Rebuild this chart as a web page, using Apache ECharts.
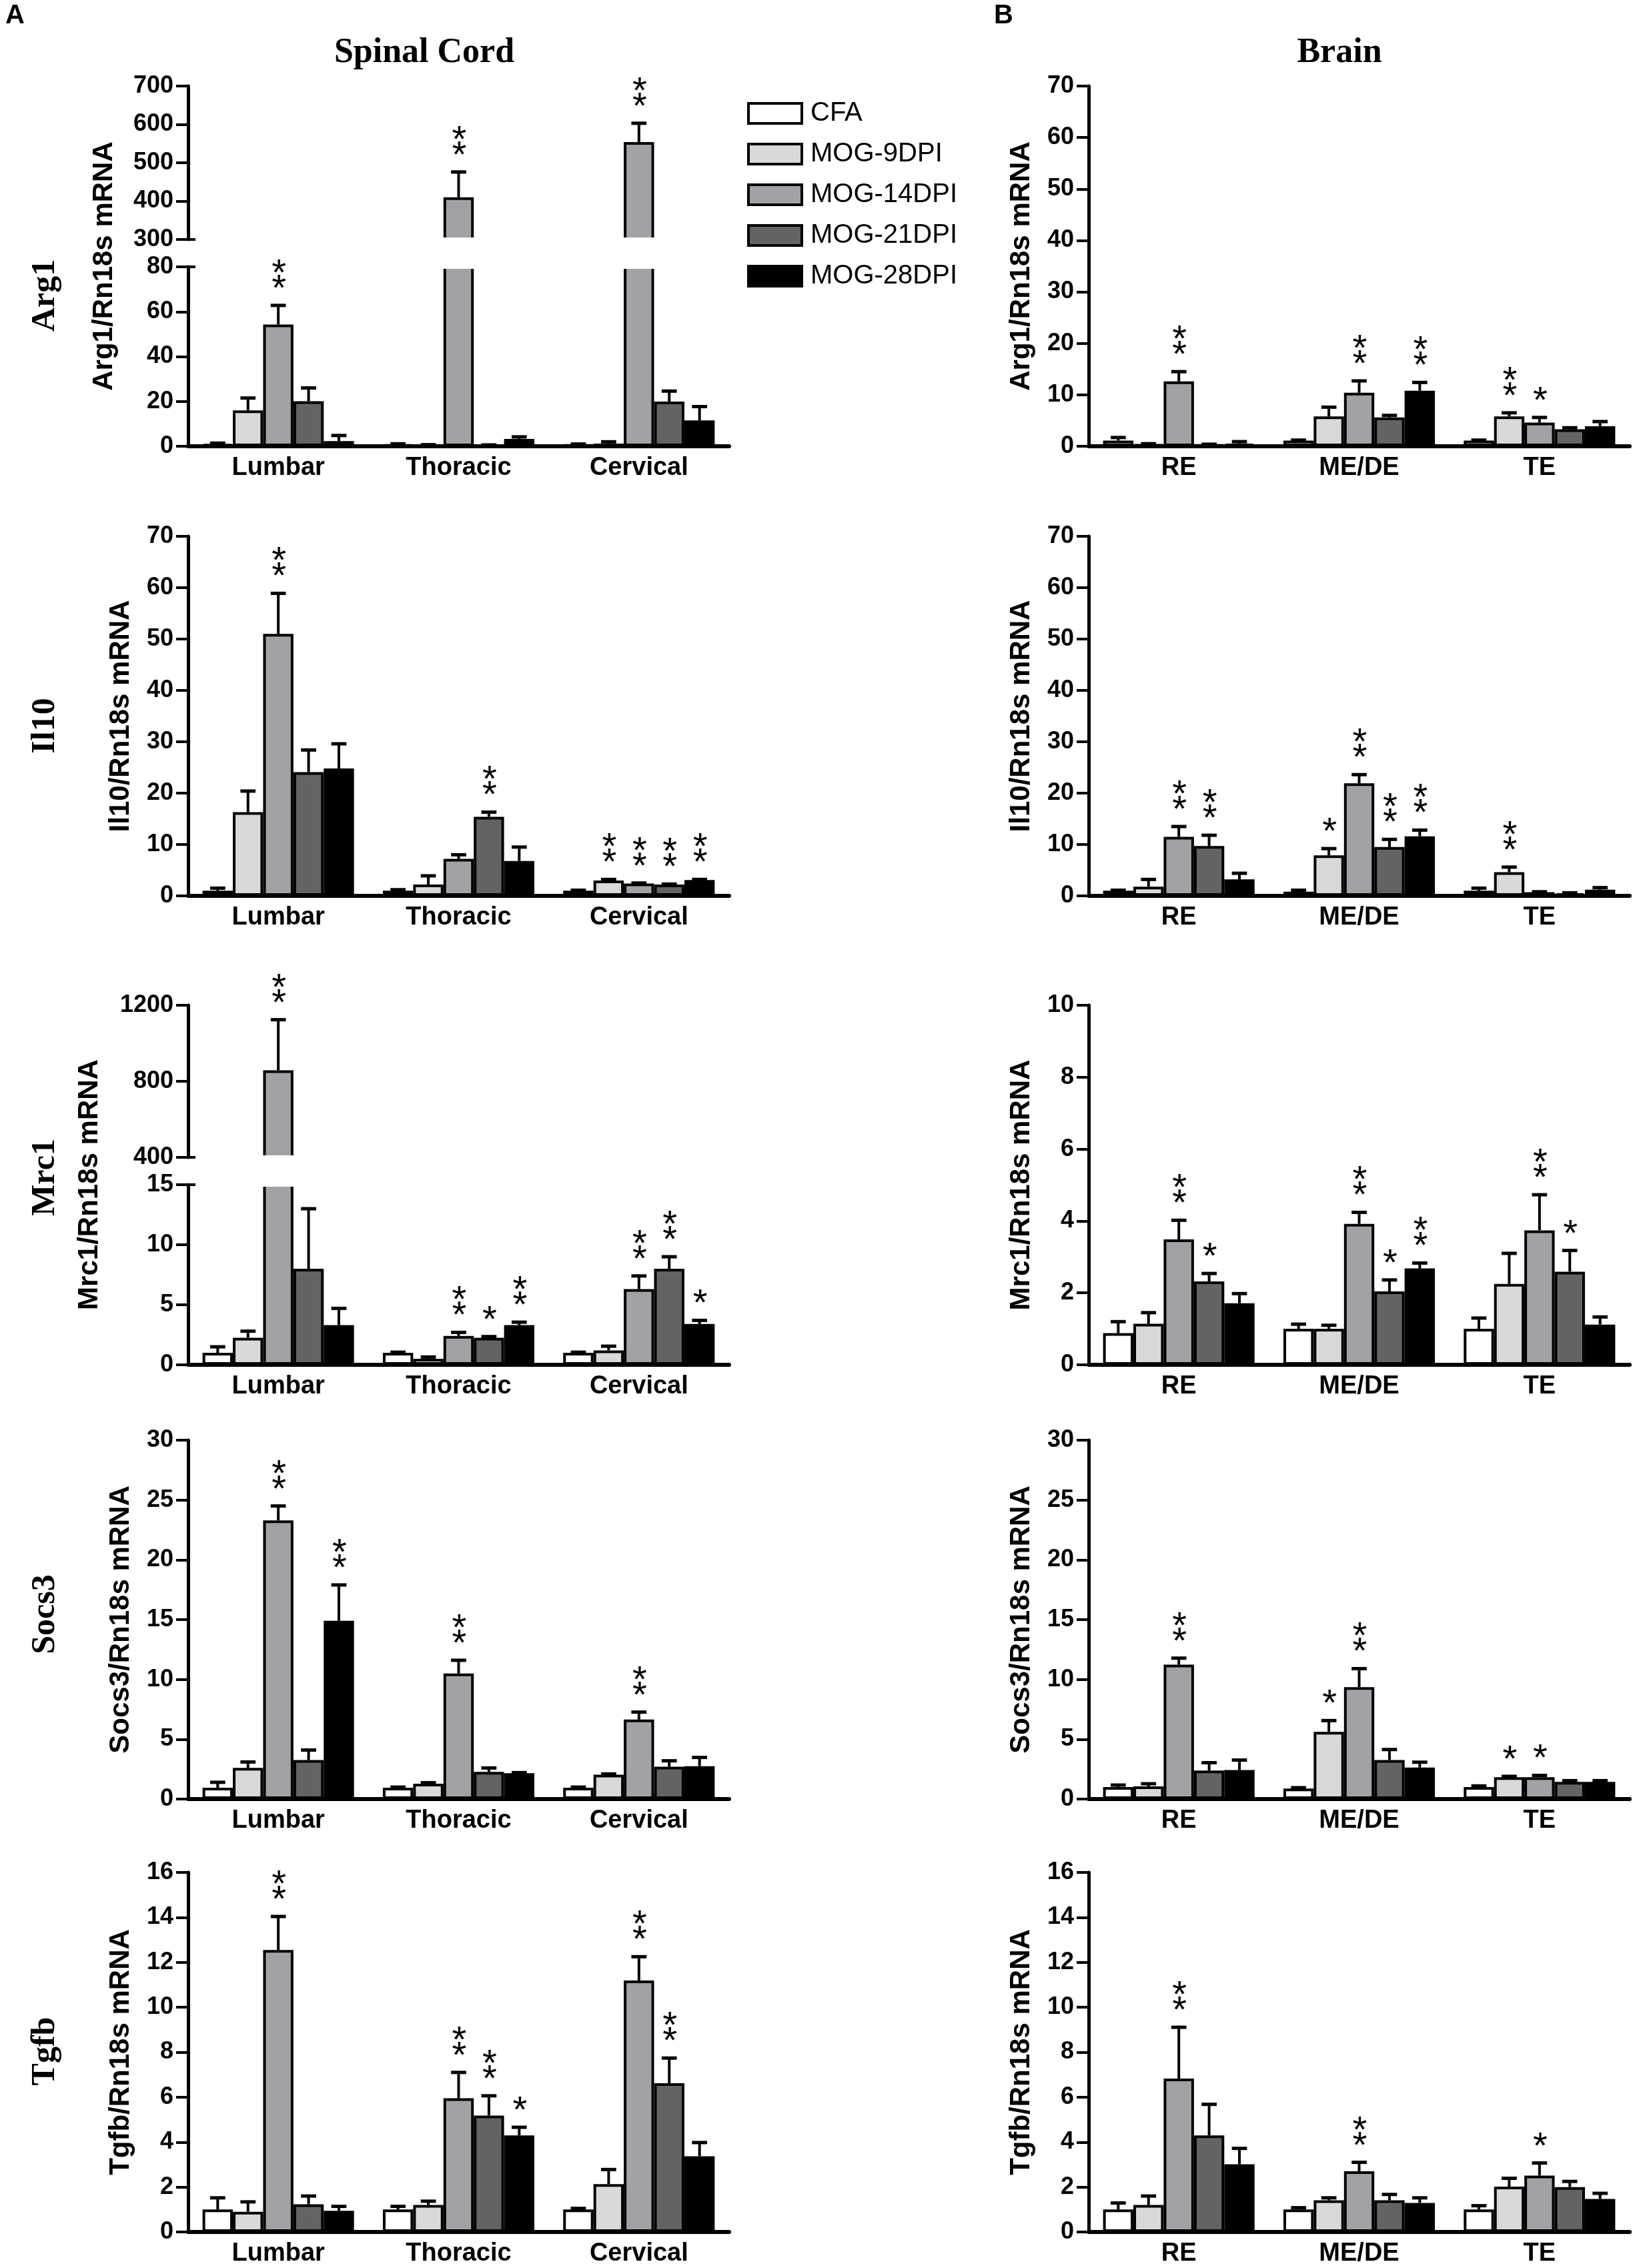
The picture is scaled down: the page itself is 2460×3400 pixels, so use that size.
<!DOCTYPE html>
<html>
<head>
<meta charset="utf-8">
<script src="https://cdn.jsdelivr.net/npm/echarts@6.0.0/dist/echarts.min.js"></script>
<style>
  html, body { margin: 0; padding: 0; background: #fff; }
  #chart { width: 2460px; height: 3400px; }
</style>
</head>
<body>
<div id="chart"></div>
<script>
// groups and regions
const groups = ['CFA', 'MOG-9DPI', 'MOG-14DPI', 'MOG-21DPI', 'MOG-28DPI'];
const spinalCats = ['Lumbar', 'Thoracic', 'Cervical'];
const brainCats = ['RE', 'ME/DE', 'TE'];
const colors = ['#ffffff', '#d9d9d9', '#a2a2a6', '#636363', '#000000'];

// one row per group (CFA ... MOG-28DPI), one column per region
// means, SEM (upward error) and significance (0 none, 1 = *, 2 = **)
const arg1Spinal    = [[1.0, 0.8, 0.7], [16.0, 0.5, 1.2], [54.3, 410, 554], [20.1, 0.5, 19.9], [2.3, 3.3, 11.5]];
const arg1SpinalErr = [[0.4, 0.3, 0.3], [5.5, 0.2, 0.8], [8.5, 66, 49], [5.9, 0.1, 4.7], [2.5, 0.9, 6.2]];
const arg1SpinalSig = [[0, 0, 0], [0, 0, 0], [2, 2, 2], [0, 0, 0], [0, 0, 0]];

const arg1Brain    = [[1.1, 1.1, 1.1], [0.4, 5.8, 5.8], [12.6, 10.4, 4.6], [0.3, 5.6, 3.3], [0.5, 10.8, 3.9]];
const arg1BrainErr = [[0.6, 0.1, 0.1], [0.1, 1.8, 0.7], [1.9, 2.3, 1.0], [0.1, 0.4, 0.3], [0.4, 1.6, 0.9]];
const arg1BrainSig = [[0, 0, 0], [0, 0, 2], [2, 2, 1], [0, 0, 0], [0, 2, 0]];

const il10Spinal    = [[1.0, 1.0, 1.0], [16.3, 2.2, 3.0], [51.0, 7.2, 2.4], [24.1, 15.4, 2.2], [24.8, 6.8, 3.1]];
const il10SpinalErr = [[0.5, 0.2, 0.1], [4.1, 1.7, 0.2], [7.9, 0.8, 0.1], [4.3, 0.9, 0.1], [4.8, 2.7, 0.1]];
const il10SpinalSig = [[0, 0, 0], [0, 0, 2], [2, 0, 2], [0, 2, 2], [0, 0, 2]];

const il10Brain    = [[1.0, 0.8, 1.0], [1.8, 7.9, 4.6], [11.5, 21.9, 0.7], [9.7, 9.5, 0.5], [3.2, 11.6, 1.2]];
const il10BrainErr = [[0.1, 0.3, 0.5], [1.4, 1.3, 1.0], [2.0, 1.7, 0.1], [2.1, 1.5, 0.1], [1.2, 1.2, 0.4]];
const il10BrainSig = [[0, 0, 0], [0, 1, 2], [2, 2, 0], [2, 2, 0], [0, 2, 0]];

const mrc1Spinal    = [[1.0, 1.0, 1.0], [2.25, 0.5, 1.2], [858, 2.4, 6.3], [8.0, 2.25, 8.0], [3.3, 3.3, 3.4]];
const mrc1SpinalErr = [[0.5, 0.05, 0.05], [0.55, 0.15, 0.35], [266, 0.3, 1.1], [5.0, 0.1, 1.0], [1.4, 0.25, 0.3]];
const mrc1SpinalSig = [[0, 0, 0], [0, 0, 0], [2, 2, 2], [0, 1, 2], [0, 2, 1]];

const mrc1Brain    = [[0.88, 1.0, 1.0], [1.14, 1.0, 2.25], [3.49, 3.92, 3.74], [2.32, 2.04, 2.59], [1.71, 2.68, 1.12]];
const mrc1BrainErr = [[0.32, 0.13, 0.3], [0.31, 0.1, 0.85], [0.53, 0.32, 0.99], [0.22, 0.32, 0.59], [0.27, 0.15, 0.21]];
const mrc1BrainSig = [[0, 0, 0], [0, 0, 0], [2, 2, 2], [1, 1, 1], [0, 2, 0]];

const socs3Spinal    = [[0.95, 0.95, 0.95], [2.6, 1.28, 2.03], [23.3, 10.5, 6.65], [3.26, 2.27, 2.7], [14.9, 2.16, 2.75]];
const socs3SpinalErr = [[0.45, 0.05, 0.05], [0.5, 0.09, 0.07], [1.2, 1.1, 0.62], [0.84, 0.33, 0.5], [3.0, 0.05, 0.73]];
const socs3SpinalSig = [[0, 0, 0], [0, 0, 0], [2, 2, 2], [0, 0, 0], [2, 0, 0]];

const socs3Brain    = [[1.0, 0.88, 1.0], [1.06, 5.62, 1.83], [11.23, 9.36, 1.83], [2.38, 3.26, 1.43], [2.42, 2.64, 1.43]];
const socs3BrainErr = [[0.17, 0.07, 0.1], [0.22, 0.94, 0.07], [0.55, 1.54, 0.15], [0.66, 0.88, 0.11], [0.84, 0.44, 0.11]];
const socs3BrainSig = [[0, 0, 0], [0, 1, 1], [2, 2, 1], [0, 0, 0], [0, 0, 0]];

const tgfbSpinal    = [[1.0, 1.0, 1.0], [0.9, 1.2, 2.13], [12.55, 5.95, 11.19], [1.23, 5.18, 6.62], [0.94, 4.3, 3.37]];
const tgfbSpinalErr = [[0.52, 0.14, 0.05], [0.44, 0.17, 0.65], [1.49, 1.15, 1.06], [0.37, 0.88, 1.12], [0.2, 0.36, 0.61]];
const tgfbSpinalSig = [[0, 0, 0], [0, 0, 0], [2, 2, 2], [0, 2, 2], [0, 1, 0]];

const tgfbBrain    = [[1.0, 1.0, 1.0], [1.2, 1.41, 2.02], [6.83, 2.7, 2.51], [4.3, 1.41, 2.0], [3.01, 1.29, 1.47]];
const tgfbBrainErr = [[0.29, 0.08, 0.17], [0.4, 0.11, 0.37], [2.28, 0.4, 0.56], [1.38, 0.26, 0.25], [0.71, 0.23, 0.25]];
const tgfbBrainSig = [[0, 0, 0], [0, 0, 0], [2, 2, 1], [0, 0, 0], [0, 0, 0]];

const SANS = 'Liberation Sans, Arial, sans-serif';
const SERIF = 'Liberation Serif, Times New Roman, serif';
const CAT_GAP = 0.16;

const chart = echarts.init(document.getElementById('chart'));
const grid = [], xAxis = [], yAxis = [], series = [], graphic = [];

function barX(api, c, g) {
  const band = api.size([1, 0])[0];
  const bw = band * (1 - CAT_GAP) / 5;
  return { x: api.coord([c, 0])[0] + (g - 2) * bw, bw: bw };
}

// error bar: vertical line from mean to mean+sem with a cap
function renderErr(params, api) {
  const c = api.value(0), m = api.value(1), e = api.value(2), g = api.value(4);
  if (!e) return null;
  const b = barX(api, c, g);
  const y0 = api.coord([c, m])[1];
  const y1 = api.coord([c, m + e])[1];
  const cap = b.bw * 0.5;
  return {
    type: 'group',
    children: [
      { type: 'line', shape: { x1: b.x, y1: y0, x2: b.x, y2: y1 }, style: { stroke: '#000', lineWidth: 4 } },
      { type: 'line', shape: { x1: b.x - cap / 2, y1: y1, x2: b.x + cap / 2, y2: y1 }, style: { stroke: '#000', lineWidth: 5 } }
    ]
  };
}

function makeSig(min, max) {
  return function (params, api) {
    const c = api.value(0), m = api.value(1), e = api.value(2), s = api.value(3), g = api.value(4);
    const t = m + e;
    if (!s || t < min || t > max) return null;
    const b = barX(api, c, g);
    const y = api.coord([c, t])[1];
    return {
      type: 'text',
      style: {
        x: b.x + 1,
        y: y - 12,
        text: s === 2 ? '*\n*' : '*',
        fontSize: 56,
        lineHeight: 23,
        fontFamily: SANS,
        fill: '#000',
        align: 'center',
        verticalAlign: 'bottom'
      }
    };
  };
}

// opens the bars where a broken axis is cut (no border along the cut)
function makeMask(level, side) {
  return function (params, api) {
    const c = api.value(0), m = api.value(1), g = api.value(4);
    if (m <= level) return null;
    const b = barX(api, c, g);
    const y = api.coord([c, level])[1];
    const y0 = side === 'bottom' ? y - 3 : y - 5;
    return {
      type: 'rect',
      shape: { x: b.x - b.bw / 2 - 4, y: y0, width: b.bw + 8, height: 8 },
      style: { fill: '#fff' }
    };
  };
}

function addPanel(p) {
  const gi = grid.length;
  grid.push({ left: p.left, top: p.top, width: 811, height: p.height });
  xAxis.push({
    type: 'category', gridIndex: gi, data: p.cats, show: p.showX !== false,
    axisLine: { lineStyle: { color: '#000', width: 6 } },
    axisTick: { show: false },
    axisLabel: { color: '#000', fontSize: 38, fontWeight: 'bold', fontFamily: SANS, margin: 14 }
  });
  const yi = yAxis.length;
  yAxis.push({
    type: 'value', gridIndex: gi, position: 'left', min: p.min, max: p.max, interval: p.interval,
    name: p.name || '', nameLocation: 'middle', nameGap: p.nameGap || 0,
    nameTextStyle: { color: '#000', fontSize: 42, fontWeight: 'bold', fontFamily: SANS },
    axisLine: { show: true, lineStyle: { color: '#000', width: 5 } },
    axisTick: { show: true, length: 18, lineStyle: { color: '#000', width: 4 } },
    axisLabel: { color: '#000', fontSize: 36, fontWeight: 'bold', fontFamily: SANS, margin: 22, formatter: v => String(v) },
    splitLine: { show: false }
  });
  if (p.breakAt != null) {
    // short mark on the right side of the axis at the break
    yAxis.push({
      type: 'value', gridIndex: gi, position: 'left', offset: 0, min: p.min, max: p.max, interval: p.interval,
      axisLine: { show: false }, axisLabel: { show: false }, splitLine: { show: false },
      axisTick: { show: true, inside: true, length: 11, customValues: [p.breakAt], lineStyle: { color: '#000', width: 4 } }
    });
  }
  p.means.forEach((row, g) => {
    series.push({
      type: 'bar', name: groups[g], xAxisIndex: gi, yAxisIndex: yi, data: row,
      barGap: '0%', barCategoryGap: (CAT_GAP * 100) + '%', clip: true, silent: true,
      itemStyle: { color: colors[g], borderColor: '#000', borderWidth: 4 }
    });
  });
  const pts = [];
  p.means.forEach((row, g) => row.forEach((m, c) => pts.push([c, m, p.errs[g][c], p.sig[g][c], g])));
  series.push({ type: 'custom', xAxisIndex: gi, yAxisIndex: yi, clip: true, silent: true, z: 3, data: pts, renderItem: renderErr });
  series.push({ type: 'custom', xAxisIndex: gi, yAxisIndex: yi, clip: false, silent: true, z: 4, data: pts, renderItem: makeSig(p.min, p.max) });
  if (p.breakAt != null) {
    series.push({ type: 'custom', xAxisIndex: gi, yAxisIndex: yi, clip: false, silent: true, z: 5, data: pts,
      renderItem: makeMask(p.breakAt, p.breakAt === p.min ? 'bottom' : 'top') });
  }
}

const L = 282, R = 1632;

// Arg1
addPanel({ left: L, top: 129, height: 230, cats: spinalCats, means: arg1Spinal, errs: arg1SpinalErr, sig: arg1SpinalSig, min: 300, max: 700, interval: 100, showX: false, breakAt: 300 });
addPanel({ left: L, top: 400, height: 269, cats: spinalCats, means: arg1Spinal, errs: arg1SpinalErr, sig: arg1SpinalSig, min: 0, max: 80, interval: 20, breakAt: 80 });
addPanel({ left: R, top: 129, height: 540, cats: brainCats, means: arg1Brain, errs: arg1BrainErr, sig: arg1BrainSig, min: 0, max: 70, interval: 10, name: 'Arg1/Rn18s mRNA', nameGap: 80 });
// Il10
addPanel({ left: L, top: 804, height: 539, cats: spinalCats, means: il10Spinal, errs: il10SpinalErr, sig: il10SpinalSig, min: 0, max: 70, interval: 10, name: 'Il10/Rn18s mRNA', nameGap: 80 });
addPanel({ left: R, top: 804, height: 539, cats: brainCats, means: il10Brain, errs: il10BrainErr, sig: il10BrainSig, min: 0, max: 70, interval: 10, name: 'Il10/Rn18s mRNA', nameGap: 80 });
// Mrc1
addPanel({ left: L, top: 1507, height: 228, cats: spinalCats, means: mrc1Spinal, errs: mrc1SpinalErr, sig: mrc1SpinalSig, min: 400, max: 1200, interval: 400, showX: false, breakAt: 400 });
addPanel({ left: L, top: 1776, height: 270, cats: spinalCats, means: mrc1Spinal, errs: mrc1SpinalErr, sig: mrc1SpinalSig, min: 0, max: 15, interval: 5, breakAt: 15 });
addPanel({ left: R, top: 1507, height: 539, cats: brainCats, means: mrc1Brain, errs: mrc1BrainErr, sig: mrc1BrainSig, min: 0, max: 10, interval: 2, name: 'Mrc1/Rn18s mRNA', nameGap: 80 });
// Socs3
addPanel({ left: L, top: 2159, height: 538, cats: spinalCats, means: socs3Spinal, errs: socs3SpinalErr, sig: socs3SpinalSig, min: 0, max: 30, interval: 5, name: 'Socs3/Rn18s mRNA', nameGap: 80 });
addPanel({ left: R, top: 2159, height: 538, cats: brainCats, means: socs3Brain, errs: socs3BrainErr, sig: socs3BrainSig, min: 0, max: 30, interval: 5, name: 'Socs3/Rn18s mRNA', nameGap: 80 });
// Tgfb
addPanel({ left: L, top: 2807, height: 539, cats: spinalCats, means: tgfbSpinal, errs: tgfbSpinalErr, sig: tgfbSpinalSig, min: 0, max: 16, interval: 2, name: 'Tgfb/Rn18s mRNA', nameGap: 80 });
addPanel({ left: R, top: 2807, height: 539, cats: brainCats, means: tgfbBrain, errs: tgfbBrainErr, sig: tgfbBrainSig, min: 0, max: 16, interval: 2, name: 'Tgfb/Rn18s mRNA', nameGap: 80 });

function vtext(text, x, y, font) {
  graphic.push({ type: 'text', x: x, y: y, rotation: Math.PI / 2, style: { text: text, font: font, fill: '#000', align: 'center', verticalAlign: 'middle' } });
}
function htext(text, x, y, font, align) {
  graphic.push({ type: 'text', x: x, y: y, style: { text: text, font: font, fill: '#000', align: align || 'center', verticalAlign: 'middle' } });
}

// y titles of the two broken panels span both halves
vtext('Arg1/Rn18s mRNA', 156, 399, 'bold 42px ' + SANS);
vtext('Mrc1/Rn18s mRNA', 134, 1776, 'bold 42px ' + SANS);

// row labels
const rowLabels = ['Arg1', 'Il10', 'Mrc1', 'Socs3', 'Tgfb'];
const rowY = [443, 1088, 1765, 2420, 3075];
rowLabels.forEach((t, i) => vtext(t, 68, rowY[i], 'bold 50px ' + SERIF));

htext('Spinal Cord', 636, 80, 'bold 52px ' + SERIF);
htext('Brain', 2008, 80, 'bold 52px ' + SERIF);
htext('A', 8, 24, 'bold 40px ' + SANS, 'left');
htext('B', 1490, 24, 'bold 40px ' + SANS, 'left');

const option = {
  animation: false,
  backgroundColor: '#fff',
  legend: {
    data: groups, orient: 'vertical', left: 1120, top: 150, padding: 0,
    itemWidth: 80, itemHeight: 30, itemGap: 21, icon: 'rect', selectedMode: false,
    itemStyle: { borderColor: '#000', borderWidth: 4 },
    textStyle: { color: '#000', fontSize: 40, fontFamily: SANS, padding: [0, 0, 0, 8] }
  },
  grid: grid,
  xAxis: xAxis,
  yAxis: yAxis,
  series: series,
  graphic: graphic
};
chart.setOption(option);
</script>
</body>
</html>
